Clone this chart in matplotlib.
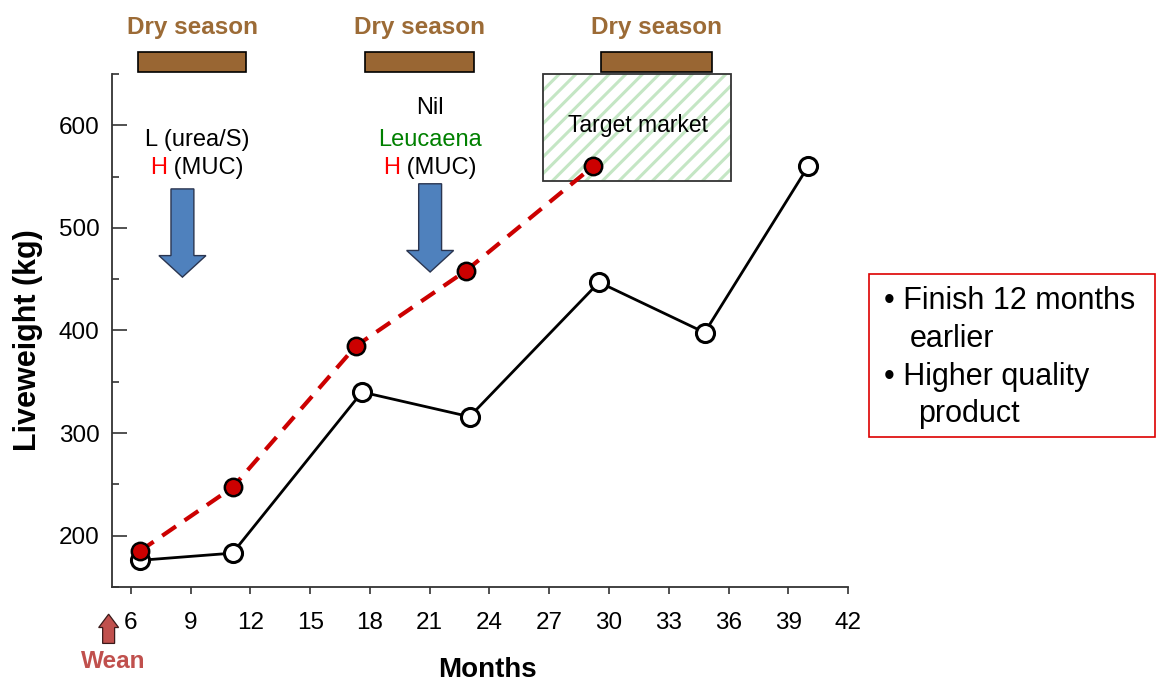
import matplotlib.pyplot as plt
from matplotlib.patches import Rectangle, FancyArrow

plt.rcParams['font.family'] = ['Liberation Sans', 'DejaVu Sans']
plt.rcParams['hatch.linewidth'] = 2.2

# data
months_base = [6.45, 11.1, 17.6, 23.0, 29.5, 34.8, 40.0]
lw_base = [176, 183, 340, 316, 447, 398, 560]
months_imp = [6.45, 11.1, 17.3, 22.8, 29.2]
lw_imp = [185, 247, 385, 458, 560]
dry_start = [6.35, 17.75, 29.6]
dry_end = [11.8, 23.2, 35.15]
xticks = list(range(6, 43, 3))
yticks = [200, 300, 400, 500, 600]

fig = plt.figure(figsize=(11.56, 6.82), dpi=100)
ax = fig.add_axes([0.0969, 0.1393, 0.6367, 0.7522])
ax.set_xlim(5.05, 42)
ax.set_ylim(150, 650)

# target market box
ax.add_patch(Rectangle((26.67, 546), 9.43, 104, facecolor='white', edgecolor='#c4e6c4',
                       hatch='//', lw=0, zorder=1))
ax.add_patch(Rectangle((26.67, 546), 9.43, 104, fill=False, edgecolor='#333333', lw=1.3,
                       zorder=1.1, clip_on=False))
ax.text(31.45, 600, "Target market", fontsize=16.5, ha='center', va='center', zorder=2)

ax.plot(months_base, lw_base, color='black', lw=2, marker='o', ms=13,
        mfc='white', mec='black', mew=2.2, zorder=3, clip_on=False)
ax.plot(months_imp, lw_imp, color='#cc0000', lw=3, ls=(0, (4, 2.5)), zorder=4,
        clip_on=False)
ax.plot(months_imp, lw_imp, ls='none', marker='o', ms=12.5, mfc='#cc0000',
        mec='black', mew=1.8, zorder=5, clip_on=False)

# dry season bars
for s, e in zip(dry_start, dry_end):
    ax.add_patch(Rectangle((s, 652), e - s, 19, facecolor='#996633', edgecolor='black',
                           lw=1.2, clip_on=False, zorder=5))
    ax.text((s + e) / 2, 695, "Dry season", color='#9c6b36', fontsize=17.5,
            fontweight='bold', ha='center', va='center', clip_on=False)

# blue arrows
for xc, top, tip in [(8.585, 538, 452), (21.02, 543, 457)]:
    ax.add_patch(FancyArrow(xc, top, 0, tip - top, width=1.15, head_width=2.36,
                            head_length=21, length_includes_head=True,
                            facecolor='#4f81bd', edgecolor='#2a3550', lw=1.0, zorder=3))

ax.text(9.31, 586, "L (urea/S)", fontsize=17, ha='center', va='center')
tH = ax.text(6.95, 558.5, "H", color='red', fontsize=17, ha='left', va='center')
ax.annotate(" (MUC)", xy=(1, 0), xycoords=tH, fontsize=17, ha='left', va='bottom')

ax.text(21.0, 617, "Nil", fontsize=17, ha='center', va='center')
ax.text(21.0, 586, "Leucaena", color='#008000', fontsize=17, ha='center', va='center')
tH2 = ax.text(18.64, 558.5, "H", color='red', fontsize=17, ha='left', va='center')
ax.annotate(" (MUC)", xy=(1, 0), xycoords=tH2, fontsize=17, ha='left', va='bottom')

# wean arrow
ax.add_patch(FancyArrow(4.88, 95, 0, 28.5, width=0.6, head_width=1.0, head_length=13,
                        length_includes_head=True, facecolor='#c0504d',
                        edgecolor='#3a1a1a', lw=0.9, clip_on=False))
ax.text(5.1, 77, "Wean", color='#c0504d', fontsize=17.5, fontweight='bold',
        ha='center', va='center', clip_on=False)

# axes styling
for side in ['top', 'right']:
    ax.spines[side].set_visible(False)
for side in ['left', 'bottom']:
    ax.spines[side].set_color('#333333')
    ax.spines[side].set_linewidth(1.3)
ax.set_xticks(xticks)
ax.set_yticks(yticks)
ax.set_yticks([150, 250, 350, 450, 550, 650], minor=True)
ax.tick_params(axis='x', direction='out', length=5, width=1.2, pad=13,
               labelsize=17.5, color='#333333')
ax.tick_params(axis='y', which='major', direction='in', length=11, width=1.2, pad=9,
               labelsize=17.5, color='#333333')
ax.tick_params(axis='y', which='minor', direction='in', length=5, width=1.2,
               color='#333333')

fig.text(487 / 1156, 1 - 670 / 682, "Months", fontsize=20, fontweight='bold',
         ha='center', va='center')
fig.text(28 / 1156, 1 - 340 / 682, "Liveweight (kg)", fontsize=22, fontweight='bold',
         ha='center', va='center', rotation=90)

# side note box
fig.patches.append(Rectangle((869 / 1156, 1 - 437 / 682), 286 / 1156, 163 / 682,
                             transform=fig.transFigure, fill=False,
                             edgecolor='#dd0000', lw=1.2))
for txt, px, py in [("• Finish 12 months", 884, 301), ("earlier", 910, 339),
                    ("• Higher quality", 884, 377), ("product", 918, 414)]:
    fig.text(px / 1156, 1 - py / 682, txt, fontsize=22, ha='left', va='center')

fig.savefig('out.png', dpi=100)
